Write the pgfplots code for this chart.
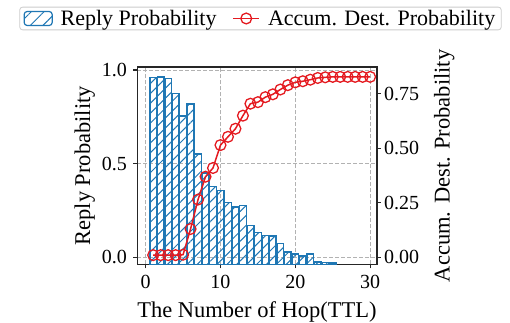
\documentclass[border=0pt]{standalone}
\usepackage{fontspec}
\setmainfont{Liberation Serif}
\usepackage{pgfplots}
\pgfplotsset{compat=1.18}
\usepackage{pgfplotstable}
\usetikzlibrary{patterns.meta}
\definecolor{barblue}{HTML}{1F77B4}
\definecolor{myred}{RGB}{228,26,32}

\pgfplotsset{
  barleg/.style={legend image code/.code={\draw[##1] (0pt,-7pt) rectangle (28pt,7pt);}},
  lineleg/.style={legend image code/.code={\draw[mark repeat=2,mark phase=2,##1] plot coordinates {(0pt,0pt) (13pt,0pt) (26pt,0pt)};}},
}

% Reply probability per hop (bars)
\pgfplotstableread{
x p
1 0.960
2 0.963
3 0.955
4 0.875
5 0.754
6 0.818
7 0.551
8 0.450
9 0.377
10 0.356
11 0.294
12 0.270
13 0.276
14 0.170
15 0.133
16 0.117
17 0.115
18 0.073
19 0.028
20 0.018
21 0.008
22 0.018
23 -0.024
24 -0.027
25 -0.031
}\bardata

% Accumulated destination probability (line)
\pgfplotstableread{
x a
1 0.010
2 0.010
3 0.010
4 0.010
5 0.012
6 0.130
7 0.265
8 0.370
9 0.410
10 0.515
11 0.553
12 0.590
13 0.650
14 0.705
15 0.712
16 0.735
17 0.748
18 0.770
19 0.790
20 0.803
21 0.808
22 0.815
23 0.823
24 0.826
25 0.828
26 0.828
27 0.828
28 0.828
29 0.828
30 0.828
}\accdata

\begin{document}
\begin{tikzpicture}
\useasboundingbox (-137.3pt,-58.7pt) rectangle (372.7pt,264.3pt);
\pgfplotsset{
  common/.style={
    at={(0pt,0pt)}, anchor=south west,
    scale only axis, width=239.4pt, height=197pt,
    xmin=-1.12, xmax=30.88,
    tick align=outside, major tick length=4pt,
    tick style={line width=1.2pt, black!85},
    axis line style={line width=1.6pt, black!85},
    ticklabel style={font=\fontsize{20}{24}\selectfont},
    label style={font=\fontsize{22.5}{27}\selectfont},
    /pgf/number format/assume math mode=true,
  }
}
\begin{axis}[
  common,
  ymin=0, ymax=1.051,
  xtick={0,10,20,30},
  ytick={0.037,0.537,1.037}, yticklabels={0.0,0.5,1.0},
  grid=major,
  grid style={dash pattern=on 4pt off 2pt, color=black!30, line width=0.8pt},
  xlabel={The Number of Hop(TTL)},
  ylabel={Reply Probability},
  xticklabel style={yshift=-3pt},
  yticklabel style={xshift=-3pt},
  xlabel shift=6pt,
  xtick pos=bottom, ytick pos=left,
]
\addplot[ybar, bar width=0.9, draw=barblue, line width=1.5pt,
  pattern={Lines[angle=45,distance=7pt,line width=1pt]}, pattern color=barblue]
  table[x=x, y expr=\thisrow{p}+0.037]{\bardata};
\end{axis}
\begin{axis}[
  common,
  ymin=-0.032, ymax=0.872,
  axis y line*=right, axis x line=none,
  ytick={0,0.25,0.5,0.75},
  yticklabel style={/pgf/number format/.cd, fixed, fixed zerofill, precision=2},
  ylabel={Accum. Dest. Probability},
  ylabel shift=8pt,
  legend columns=2,
  legend cell align=left,
  legend style={at={(0.5146,1.2477)}, anchor=center,
    draw=black!20, line width=0.8pt, rounded corners=3pt,
    font=\fontsize{22}{26}\selectfont,
    inner xsep=4pt, inner ysep=1pt,
    /tikz/every odd column/.append style={column sep=6pt},
    /tikz/every even column/.append style={column sep=14pt}},
]
\addlegendimage{barleg, draw=barblue, line width=1.2pt,
  pattern={Lines[angle=45,distance=9pt,line width=1pt]}, pattern color=barblue}
\addlegendentry{Reply Probability}
\addplot[lineleg, myred, line width=1.5pt, mark=o, mark size=5.4pt,
  mark options={line width=1.3pt, fill=none}]
  table[x=x, y=a]{\accdata};
\addlegendentry{Accum. Dest. Probability}
\end{axis}
\end{tikzpicture}
\end{document}
